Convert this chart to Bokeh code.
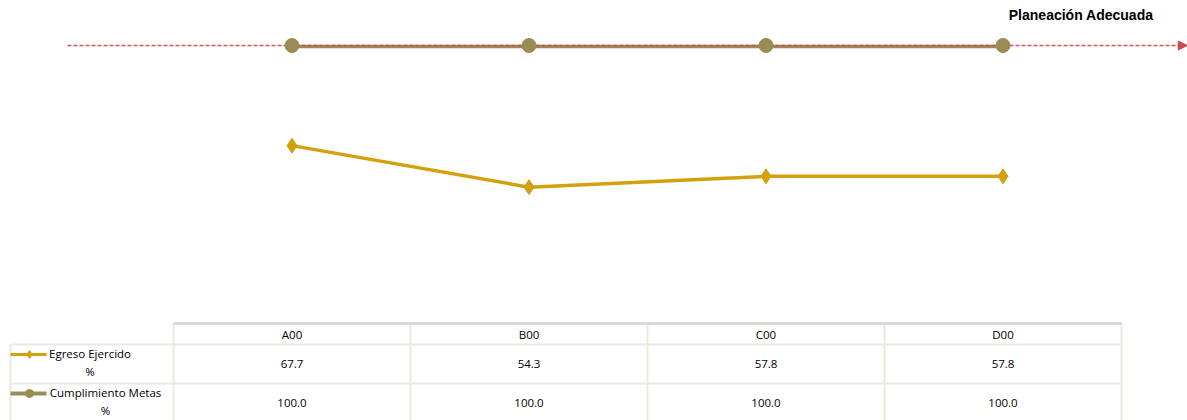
from bokeh.plotting import figure
from bokeh.models import Range1d, Arrow, NormalHead, Label
from bokeh.core.properties import value
from bokeh.embed import file_html
from bokeh.resources import INLINE

# ---- data ----
categories = ["A00", "B00", "C00", "D00"]
egreso = [67.7, 54.3, 57.8, 57.8]
cumplimiento = [100.0, 100.0, 100.0, 100.0]
series_names = ["Egreso Ejercido\n%", "Cumplimiento Metas\n%"]
target = 100.0
title = "Planeación Adecuada"

# ---- layout constants (pixels) ----
W, H = 1187, 420
CAT_W = 237.0          # px per category
CAT0 = 291.5           # px of first category center
PX_PER_UNIT = 3.1
Y100 = 45.0            # px from top of value 100

x0 = -CAT0 / CAT_W
x1 = (W - CAT0) / CAT_W
ytop = 100 + Y100 / PX_PER_UNIT
ybot = 100 - (H - Y100) / PX_PER_UNIT

def px2x(px):
    return x0 + px / CAT_W

GOLD = "#d4a10c"
OLIVE = "#998c54"
RED = "#d0494d"
GRID = "#ece9dd"
FONT = "Open Sans"

p = figure(width=W, height=H, x_range=Range1d(x0, x1), y_range=Range1d(ybot, ytop),
           x_axis_type=None, y_axis_type=None, toolbar_location=None,
           output_backend="svg", min_border=0, outline_line_color=None)
p.extra_y_ranges = {"px": Range1d(H, 0)}
p.xgrid.visible = False
p.ygrid.visible = False

xs = list(range(len(categories)))

# olive series line (below), target dashed line, then markers
p.line(xs, [v - 0.3 for v in cumplimiento], line_color=OLIVE, line_width=3.5)
x_tip = x1 - 0.001
p.line([px2x(67), x_tip - 0.03], [target, target], line_color=RED, line_width=1.5,
       line_dash="4 2", line_alpha=0.95)
p.add_layout(Arrow(x_start=x_tip - 0.035, y_start=target, x_end=x_tip, y_end=target,
                   line_alpha=0, line_width=1,
                   end=NormalHead(size=9, fill_color=RED, line_color=RED)))
p.scatter(xs, cumplimiento, marker="circle", size=14, fill_color=OLIVE, line_color=OLIVE)
p.line(xs, egreso, line_color=GOLD, line_width=3.5)
p.scatter(xs, egreso, marker="diamond", size=15, fill_color=GOLD, line_color=GOLD)

# title
p.add_layout(Label(x=1153, y=H - 14, x_units="screen", y_units="screen", text=title,
                   text_font="Liberation Sans", text_font_style="bold", text_font_size="14px",
                   text_align="right", text_baseline="middle", text_color="#000000"))

# ---- data table ----
ROW_TOP, ROW1, ROW2, ROW_BOT = 323, 344, 383, 421
LBL_L = 10
col_edges = [i - 0.5 for i in range(len(categories) + 1)]
p.segment(x0=col_edges, y0=[ROW_TOP] * len(col_edges), x1=col_edges, y1=[ROW_BOT] * len(col_edges),
          line_color=GRID, line_width=2, y_range_name="px")
p.segment(x0=[px2x(LBL_L)], y0=[ROW1], x1=[px2x(LBL_L)], y1=[ROW_BOT],
          line_color=GRID, line_width=2, y_range_name="px")
p.segment(x0=[col_edges[0]], y0=[ROW_TOP], x1=[col_edges[-1]], y1=[ROW_TOP],
          line_color="#d9d9d9", line_width=3, y_range_name="px")
p.segment(x0=[px2x(LBL_L)] * 2, y0=[ROW1, ROW2], x1=[col_edges[-1]] * 2, y1=[ROW1, ROW2],
          line_color=GRID, line_width=2, y_range_name="px")

TS = "11.5px"
p.text(x=xs, y=[334] * len(xs), text=categories, y_range_name="px",
       text_font=value(FONT), text_font_size=TS, text_align="center",
       text_baseline="middle", text_color="#000000")
row_ys = [363, 402]
for vals, ry in zip([egreso, cumplimiento], row_ys):
    p.text(x=xs, y=[ry] * len(xs), text=[f"{v:.1f}" for v in vals], y_range_name="px",
           text_font=value(FONT), text_font_size=TS, text_align="center",
           text_baseline="middle", text_color="#000000")

# legend labels (two-line, centered)
lbl_x = [px2x(89.5), px2x(105)]
lbl_y = [362, 401]
for name, lx, ly in zip(series_names, lbl_x, lbl_y):
    p.text(x=[lx], y=[ly], text=[name], y_range_name="px",
           text_font=value(FONT), text_font_size=TS, text_align="center",
           text_baseline="middle", text_color="#000000", text_line_height=1.2)

# legend symbols
sym_y = [354, 393]
p.line([px2x(10), px2x(46)], [sym_y[0]] * 2, line_color=GOLD, line_width=3, y_range_name="px")
p.scatter([px2x(29)], [sym_y[0]], marker="diamond", size=8, fill_color=GOLD, line_color=GOLD, y_range_name="px")
p.line([px2x(10), px2x(46)], [sym_y[1]] * 2, line_color=OLIVE, line_width=4, y_range_name="px")
p.scatter([px2x(29)], [sym_y[1]], marker="circle", size=8, fill_color=OLIVE, line_color=OLIVE, y_range_name="px")

open("out.html", "w").write(file_html(p, INLINE))
